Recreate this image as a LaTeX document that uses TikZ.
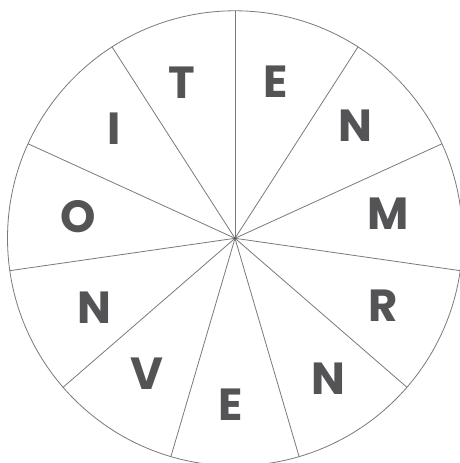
\documentclass[tikz,border=0pt]{standalone}
\usepackage{fontspec}
\newfontfamily\lettfont{Poppins}
\usetikzlibrary{calc}
\definecolor{linegray}{HTML}{7A7A7C}
\definecolor{lettgray}{HTML}{545457}
\tikzset{
  wheel/.style={draw=linegray, line width=0.8pt},
  lett/.style={text=lettgray, font=\lettfont\bfseries\fontsize{45}{45}\selectfont, inner sep=0pt, anchor=center}
}
\begin{document}
\begin{tikzpicture}[x=1pt,y=1pt]
\useasboundingbox (0,0) rectangle (460,463);
\clip (0,0) rectangle (460,463);
\fill[white] (0,0) rectangle (460,463);
\coordinate (C) at (235,224.7);
\draw[wheel] (C) circle (227.5);
\foreach \k in {0,...,10}{
  \draw[wheel] (C) -- ($(C)+({90-\k*360/11}:227.5)$);
}
\fill[lettgray] (C) circle (1.2);
\node[lett] (t1) at (181.7,463-82.8) {T};
\node[lett] (e1) at (275.7,463-82) {E};
\node[lett] (n1) at (355,463-125.7) {N};
\node[lett] (m1) at (388,463-214) {M};
\node[lett] (r1) at (383.3,463-305.3) {R};
\node[lett] (n2) at (328,463-379) {N};
\node[lett] (e2) at (230.7,463-404.7) {E};
\node[lett] (v1) at (147,463-373.7) {V};
\node[lett] (n3) at (94,463-307.3) {N};
\node[lett] (o1) at (78,463-217) {O};
\node[lett] (i1) at (114.3,463-128.7) {I};
\end{tikzpicture}
\end{document}
